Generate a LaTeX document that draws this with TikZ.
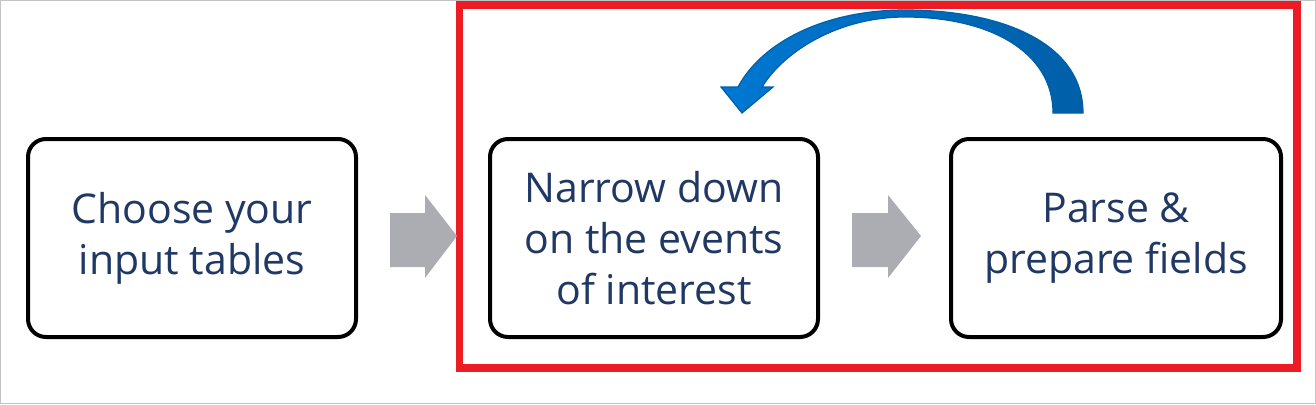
\documentclass[tikz,border=0pt]{standalone}
\usepackage{fontspec}
\setmainfont{Open Sans}
\definecolor{navy}{HTML}{1F3864}
\definecolor{grayarrow}{HTML}{ABADB3}
\definecolor{redframe}{HTML}{ED1C24}
\definecolor{bluedark}{HTML}{005FA8}
\definecolor{bluelight}{HTML}{0078D2}
\definecolor{frame}{HTML}{C3C3C3}
\tikzset{
  stepbox/.style={draw=black, line width=4pt, rounded corners=18pt, fill=white,
    minimum width=328pt, minimum height=198pt, inner sep=0pt,
    text=navy, align=center, font=\fontsize{41}{51}\selectfont},
  blockarrow/.style={fill=grayarrow, draw=none},
}
\begin{document}
\begin{tikzpicture}[x=1pt,y=-1pt]
\useasboundingbox (0,0) rectangle (1316,404);
\draw[frame, line width=1.2pt] (0.6,0.6) rectangle (1315.4,403.4);
% red frame
\draw[redframe, line width=7.5pt] (459.5,5) rectangle (1297,368);
% boxes
\node[stepbox] (b1) at (192,238) {Choose your\\input tables};
\node[stepbox] (b2) at (654,238) {Narrow down\\on the events\\of interest};
\node[stepbox, minimum width=330pt] (b3) at (1116,238) {Parse \&\\prepare fields};
% gray block arrows
\fill[blockarrow] (390,213) -- (425,213) -- (425,195) -- (457,236) -- (425,278) -- (425,267) -- (390,267) -- cycle;
\fill[blockarrow] (852,213) -- (888,213) -- (888,195) -- (921,236) -- (888,278) -- (888,267) -- (852,267) -- cycle;
% blue curved arrow
\path[left color=bluelight, right color=bluedark, draw=bluedark, line width=1.2pt]
  (1083,113) .. controls (1083,42) and (1000,10) .. (905,10)
  .. controls (825,10) and (762,42) .. (738,87)
  -- (721,87) -- (742,113) -- (773,87) -- (762,87)
  .. controls (785,50) and (840,17) .. (905,17)
  .. controls (990,17) and (1053,52) .. (1053,113) -- cycle;
\end{tikzpicture}
\end{document}
